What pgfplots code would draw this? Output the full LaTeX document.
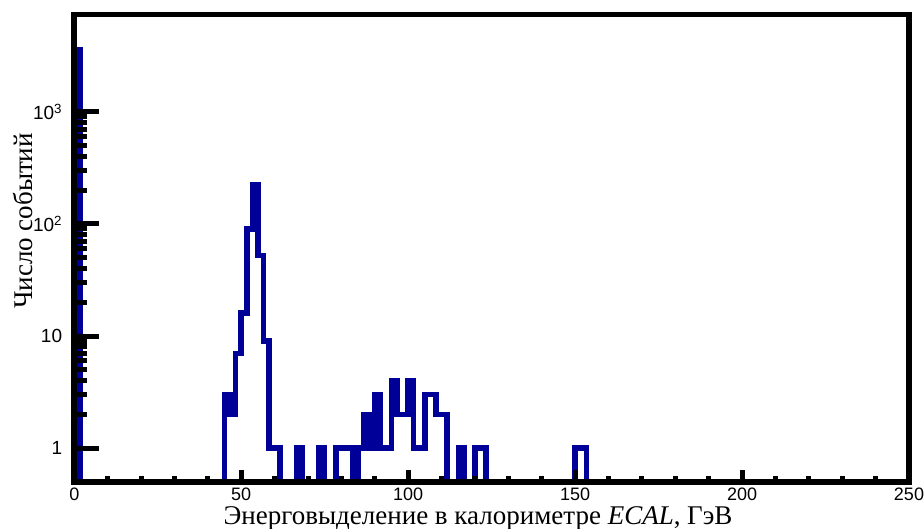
\documentclass[border=0pt]{standalone}
\usepackage{fontspec}
\setmainfont{Liberation Serif}
\setsansfont{Liberation Sans}
\usepackage{pgfplots}
\usepackage{pgfplotstable}
\pgfplotsset{compat=1.18}
\definecolor{rootblue}{RGB}{0,0,153}

% lower bin edge (GeV), count (0.5 = empty bin, drawn on the frame)
\pgfplotstableread{
x y
0 0.5
0 3560
1.6667 0.5
45 3
46.6667 2
48.3333 7
50 16
51.6667 90
53.3333 222
55 52
56.6667 9
58.3333 1
61.6667 0.5
66.6667 1
68.3333 0.5
73.3333 1
75 0.5
78.3333 1
83.3333 0.5
85 1
86.6667 2
88.3333 1
90 3
91.6667 1
95 4
96.6667 2
100 4
101.6667 1
105 3
108.3333 2
111.6667 0.5
115 1
116.6667 0.5
120 1
123.3333 0.5
150 1
153.3333 0.5
250 0.5
}\hist

\begin{document}
\begin{tikzpicture}
\useasboundingbox (-74.3pt,-47pt) rectangle (849.7pt,482pt);
\begin{axis}[
  scale only axis, width=834.7pt, height=467.5pt,
  at={(0pt,0pt)}, anchor=south west,
  xmin=0, xmax=250, ymode=log, ymin=0.5, ymax=7350,
  axis on top,
  axis line style={line width=5.6pt, black},
  tick pos=left,
  xtick={0,50,100,150,200,250},
  xticklabels={0,50,100,150,200,250},
  minor x tick num=4,
  ytick=\empty, minor ytick={},
  major tick length=12pt, minor tick length=6pt,
  every tick/.style={black, line width=5pt},
  xticklabel style={font=\fontsize{18}{21}\sffamily, anchor=north, inner sep=0pt, yshift=-5.5pt},
  xlabel={Энерговыделение в калориметре \textit{ECAL}, ГэВ},
  xlabel style={font=\fontsize{27}{30}\selectfont, at={(axis description cs:0.4837,-0.0915)}, anchor=base},
  ylabel={Число событий},
  ylabel style={font=\fontsize{27}{30}\selectfont, at={(axis description cs:-0.0495,0.5583)}, anchor=base, rotate=0},
]
\addplot[const plot mark left, rootblue, line width=5.5pt, line join=miter] table[x=x,y=y] {\hist};
\end{axis}
\begin{axis}[
  scale only axis, width=834.7pt, height=467.5pt,
  at={(0pt,0pt)}, anchor=south west,
  xmin=0, xmax=250, ymode=log, ymin=0.5, ymax=7350,
  axis line style={draw=none},
  tick pos=left,
  xtick=\empty,
  ytick={1,10,100,1000},
  yticklabels={1,10,10\textsuperscript{2},10\textsuperscript{3}},
  major tick length=24.5pt, minor tick length=12.2pt,
  every tick/.style={black, line width=5pt},
  yticklabel style={font=\fontsize{19}{22}\sffamily, anchor=east, inner sep=0pt, xshift=-12pt},
]
\end{axis}
\end{tikzpicture}
\end{document}
